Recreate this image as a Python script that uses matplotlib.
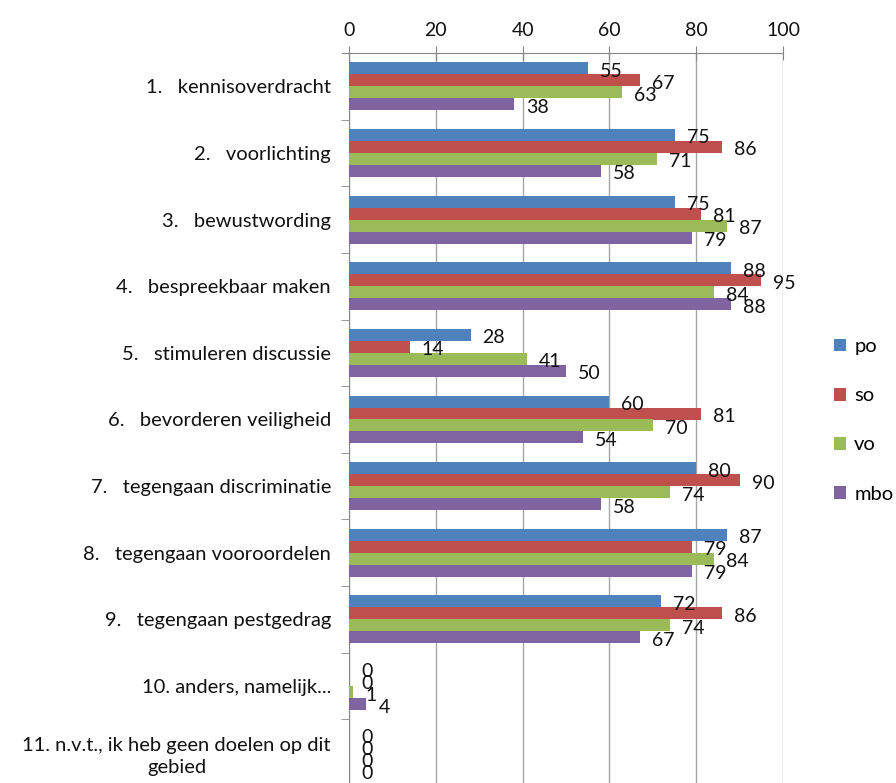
import matplotlib
matplotlib.use('Agg')
import matplotlib.pyplot as plt
import numpy as np

plt.rcParams['font.family'] = ['Lato', 'DejaVu Sans']

categories = [
    '1.   kennisoverdracht',
    '2.   voorlichting',
    '3.   bewustwording',
    '4.   bespreekbaar maken',
    '5.   stimuleren discussie',
    '6.   bevorderen veiligheid',
    '7.   tegengaan discriminatie',
    '8.   tegengaan vooroordelen',
    '9.   tegengaan pestgedrag',
    '10. anders, namelijk...',
    '11. n.v.t., ik heb geen doelen op dit\ngebied',
]
po = [55, 75, 75, 88, 28, 60, 80, 87, 72, 0, 0]
so = [67, 86, 81, 95, 14, 81, 90, 79, 86, 0, 0]
vo = [63, 71, 87, 84, 41, 70, 74, 84, 74, 1, 0]
mbo = [38, 58, 79, 88, 50, 54, 58, 79, 67, 4, 0]

series = [('po', po, '#4F81BD'), ('so', so, '#C0504D'),
          ('vo', vo, '#9BBB59'), ('mbo', mbo, '#8064A2')]

fig = plt.figure(figsize=(8.96, 7.83), dpi=100)
ax = fig.add_axes([349 / 896, 1 - 786 / 783, 434 / 896, 733 / 783])

y = np.arange(len(categories))
h = 0.18
offsets = [-1.5 * h, -0.5 * h, 0.5 * h, 1.5 * h]

for (name, vals, col), off in zip(series, offsets):
    bars = ax.barh(y + off, vals, height=h, color=col, label=name, zorder=3)
    for b, v in zip(bars, vals):
        ax.annotate(str(v), (v, b.get_y() + b.get_height() / 2),
                    xytext=(12, -3), textcoords='offset pixels',
                    ha='left', va='center', fontsize=14, color='#111111',
                    zorder=4, annotation_clip=False)

ax.set_xlim(0, 100)
ax.set_ylim(len(categories) - 0.5, -0.5)
ax.xaxis.tick_top()
ax.set_xticks([0, 20, 40, 60, 80, 100])
ax.tick_params(axis='x', direction='inout', length=10, color='#868686',
               labelsize=14, labelcolor='#111111', pad=5)
ax.grid(axis='x', color='#a6a6a6', linewidth=1, zorder=0)

ax.set_yticks(y)
ax.set_yticklabels(categories, fontsize=14.5, color='#111111',
                   multialignment='center', linespacing=1.35)
ax.set_yticks(np.arange(len(categories)) + 0.5, minor=True)
ax.tick_params(axis='y', which='major', length=0, pad=13)
ax.tick_params(axis='y', which='minor', length=6, color='#868686', direction='out')

for s in ['right', 'bottom']:
    ax.spines[s].set_visible(False)
for s in ['top', 'left']:
    ax.spines[s].set_color('#868686')
ax.spines['top'].set_bounds(-1.5, 100)

leg = fig.legend(loc='upper left', bbox_to_anchor=(826 / 896, 1 - 330 / 783),
                 frameon=False, fontsize=14.5, handlelength=0.6, handleheight=0.6,
                 handletextpad=0.4, labelspacing=1.6, borderaxespad=0)

fig.savefig('out.png', dpi=100)
plt.close(fig)
